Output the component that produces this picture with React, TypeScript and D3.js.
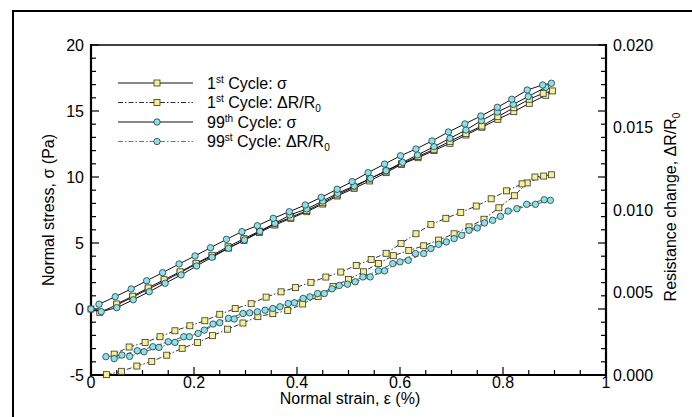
import React from "react";
import * as d3 from "d3";

// ---- data (strain in %, stress in Pa, resistance change dimensionless) ----
const xTicks = [0, 0.2, 0.4, 0.6, 0.8, 1];
const xTickLabels = ["0", "0.2", "0.4", "0.6", "0.8", "1"];
const yLeftTicks = [-5, 0, 5, 10, 15, 20];
const yLeftTickLabels = ["-5", "0", "5", "10", "15", "20"];
const yRightTicks = [0, 0.005, 0.01, 0.015, 0.02];
const yRightTickLabels = ["0.000", "0.005", "0.010", "0.015", "0.020"];

// 1st cycle stress
const c1SigLoadX = [0, 0.017, 0.05, 0.081, 0.111, 0.142, 0.173, 0.204, 0.235, 0.267, 0.297, 0.327, 0.357, 0.388, 0.419, 0.45, 0.478, 0.511, 0.541, 0.573, 0.603, 0.635, 0.666, 0.697, 0.728, 0.759, 0.79, 0.821, 0.851, 0.883, 0.896];
const c1SigLoadY = [0, -0.25, 0.3, 0.9, 1.5, 2.1, 2.75, 3.4, 4.0, 4.62, 5.2, 5.8, 6.36, 6.87, 7.37, 7.95, 8.56, 9.14, 9.7, 10.33, 10.96, 11.46, 12.0, 12.55, 13.18, 13.77, 14.37, 14.95, 15.58, 16.19, 16.52];
const c1SigUnloadX = [0.878, 0.851, 0.821, 0.79, 0.759, 0.728, 0.697, 0.666, 0.635, 0.603, 0.573, 0.541, 0.511, 0.478, 0.45, 0.419, 0.388, 0.357, 0.327, 0.297, 0.266, 0.235, 0.204, 0.173, 0.142, 0.111, 0.081, 0.05];
const c1SigUnloadY = [16.34, 15.89, 15.25, 14.57, 13.86, 13.3, 12.7, 12.1, 11.55, 11.0, 10.45, 9.85, 9.25, 8.65, 8.05, 7.45, 6.95, 6.45, 5.9, 5.33, 4.72, 4.07, 3.46, 2.82, 2.22, 1.6, 0.97, 0.38];

// 1st cycle resistance change
const c1ResLoadX = [0.03, 0.059, 0.089, 0.118, 0.147, 0.177, 0.207, 0.236, 0.265, 0.295, 0.324, 0.353, 0.382, 0.411, 0.441, 0.47, 0.5, 0.529, 0.558, 0.587, 0.617, 0.646, 0.675, 0.705, 0.734, 0.763, 0.792, 0.822, 0.847, 0.879, 0.894];
const c1ResLoadY = [0.00002, 0.000224, 0.000544, 0.000824, 0.0012, 0.001616, 0.001968, 0.002384, 0.002776, 0.003152, 0.003536, 0.00372, 0.003904, 0.004304, 0.00476, 0.00536, 0.005792, 0.006256, 0.00676, 0.007232, 0.007544, 0.007832, 0.008176, 0.00856, 0.008976, 0.00944, 0.010136, 0.010864, 0.01164, 0.012056, 0.012136];
const c1ResUnloadX = [0.862, 0.837, 0.807, 0.777, 0.748, 0.718, 0.689, 0.66, 0.631, 0.602, 0.573, 0.544, 0.515, 0.485, 0.456, 0.427, 0.397, 0.369, 0.34, 0.311, 0.28, 0.25, 0.221, 0.192, 0.163, 0.134, 0.105, 0.074, 0.045];
const c1ResUnloadY = [0.012, 0.011584, 0.01116, 0.01068, 0.01024, 0.009856, 0.009496, 0.00912, 0.00856, 0.007976, 0.007376, 0.007, 0.00664, 0.00624, 0.005936, 0.005616, 0.005296, 0.00504, 0.00472, 0.00432, 0.004024, 0.00368, 0.003288, 0.002984, 0.00268, 0.00232, 0.001968, 0.001696, 0.001264];

// 99th cycle stress
const c99SigLoadX = [0, 0.0198, 0.05, 0.082, 0.113, 0.144, 0.175, 0.205, 0.235, 0.267, 0.298, 0.328, 0.357, 0.386, 0.419, 0.45, 0.479, 0.511, 0.543, 0.573, 0.605, 0.634, 0.666, 0.697, 0.728, 0.758, 0.789, 0.82, 0.849, 0.883];
const c99SigLoadY = [0, -0.2, 0.1, 0.7, 1.31, 1.95, 2.58, 3.26, 3.92, 4.6, 5.23, 5.88, 6.49, 7.12, 7.58, 8.18, 8.77, 9.32, 9.9, 10.48, 11.11, 11.67, 12.3, 12.93, 13.56, 14.27, 14.92, 15.5, 16.1, 16.8];
const c99SigUnloadX = [0.894, 0.877, 0.847, 0.817, 0.789, 0.757, 0.726, 0.694, 0.662, 0.631, 0.601, 0.57, 0.538, 0.507, 0.478, 0.447, 0.416, 0.385, 0.354, 0.323, 0.293, 0.263, 0.232, 0.202, 0.171, 0.139, 0.108, 0.078, 0.047, 0.0155];
const c99SigUnloadY = [17.1, 16.97, 16.59, 15.89, 15.28, 14.62, 14.02, 13.41, 12.73, 12.12, 11.61, 10.98, 10.33, 9.65, 9.07, 8.46, 7.88, 7.37, 6.87, 6.31, 5.86, 5.28, 4.64, 4.02, 3.41, 2.75, 2.14, 1.52, 0.93, 0.36];

// 99th cycle resistance change
const c99ResLoadX = [0.029, 0.06, 0.09, 0.12, 0.15, 0.18, 0.208, 0.237, 0.267, 0.295, 0.323, 0.353, 0.383, 0.412, 0.44, 0.468, 0.498, 0.528, 0.558, 0.586, 0.616, 0.646, 0.675, 0.705, 0.734, 0.764, 0.795, 0.827, 0.863, 0.892];
const c99ResLoadY = [0.001112, 0.001208, 0.001472, 0.001712, 0.002016, 0.00232, 0.00252, 0.003088, 0.003432, 0.003728, 0.003832, 0.004032, 0.004336, 0.00464, 0.004936, 0.005224, 0.005504, 0.005944, 0.006312, 0.006752, 0.006952, 0.00736, 0.00792, 0.008264, 0.008768, 0.009216, 0.009616, 0.01008, 0.010344, 0.010584];
const c99ResUnloadX = [0.88, 0.846, 0.81, 0.78, 0.75, 0.72, 0.69, 0.66, 0.63, 0.6, 0.57, 0.542, 0.513, 0.482, 0.453, 0.425, 0.395, 0.367, 0.338, 0.308, 0.278, 0.25, 0.22, 0.191, 0.163, 0.132, 0.103, 0.075, 0.045];
const c99ResUnloadY = [0.010624, 0.010344, 0.009936, 0.009376, 0.008912, 0.008464, 0.008064, 0.007664, 0.00736, 0.006856, 0.006312, 0.005944, 0.005648, 0.005424, 0.004936, 0.004736, 0.004376, 0.004136, 0.003928, 0.003768, 0.003392, 0.003168, 0.00272, 0.00232, 0.001976, 0.001672, 0.001408, 0.001128, 0.000992];

const legendNames = ["1st Cycle: σ", "1st Cycle: ΔR/R0", "99th Cycle: σ", "99st Cycle: ΔR/R0"];

const YELLOW = "#f6f08e";
const CYAN = "#84e4ee";
const FONT = "Liberation Sans, Arial, sans-serif";

const W = 692, H = 417;
const L = 91, R = 606, T = 45, B = 375;

const x = d3.scaleLinear().domain([0, 1]).range([L, R]);
const yL = d3.scaleLinear().domain([-5, 20]).range([B, T]);
const yR = d3.scaleLinear().domain([0, 0.02]).range([B, T]);

type P = [number, number];
const zip = (xs: number[], ys: number[]): P[] => xs.map((v, i) => [v, ys[i]]);

const series = [
  { pts: zip(c1ResLoadX, c1ResLoadY).concat(zip(c1ResUnloadX, c1ResUnloadY)), y: yR, marker: "sq", dash: "5,2,1.5,2", stroke: "#333" },
  { pts: zip(c99ResLoadX, c99ResLoadY).concat(zip(c99ResUnloadX, c99ResUnloadY)), y: yR, marker: "ci", dash: "5,2,1.5,2", stroke: "#555" },
  { pts: zip(c1SigLoadX, c1SigLoadY).concat(zip(c1SigUnloadX, c1SigUnloadY)), y: yL, marker: "sq", dash: "", stroke: "#111" },
  { pts: zip(c99SigLoadX, c99SigLoadY).concat(zip(c99SigUnloadX, c99SigUnloadY)), y: yL, marker: "ci", dash: "", stroke: "#111" },
];

function Marker({ kind, cx, cy }: { kind: string; cx: number; cy: number }) {
  if (kind === "sq")
    return <rect x={cx - 3} y={cy - 3} width={6} height={6} fill={YELLOW} stroke="#333" strokeWidth={0.8} />;
  return <circle cx={cx} cy={cy} r={3.2} fill={CYAN} stroke="#333" strokeWidth={0.8} />;
}

function LegendLabel({ name, x0, y0 }: { name: string; x0: number; y0: number }) {
  const m = name.match(/^(\d+)(st|th)( Cycle: )(.*)$/);
  if (!m) return null;
  const rest = m[4];
  const hasSub = rest.endsWith("R0");
  return (
    <text x={x0} y={y0} fontSize={16} fontFamily={FONT} fill="#000">
      {m[1]}
      <tspan fontSize={10} dy={-6}>{m[2]}</tspan>
      <tspan dy={6}>{m[3]}{hasSub ? rest.slice(0, -1) : rest}</tspan>
      {hasSub && <tspan fontSize={10} dy={4}>0</tspan>}
    </text>
  );
}

export default function App() {
  const xMinor = d3.range(0, 1.0001, 0.05);
  const yMinor = d3.range(-5, 20.0001, 1);
  const legendY = [83, 102.5, 122, 141.5];
  const legendStyles = [
    { marker: "sq", dash: "", stroke: "#111" },
    { marker: "sq", dash: "5,2,1.5,2", stroke: "#333" },
    { marker: "ci", dash: "", stroke: "#111" },
    { marker: "ci", dash: "5,2,1.5,2", stroke: "#777" },
  ];
  return (
    <svg width={W} height={H} style={{ position: "absolute", left: 0, top: 0, background: "#fff" }}>
      <rect x={0} y={0} width={W} height={H} fill="#fff" />
      <rect x={13} y={11} width={720} height={440} fill="none" stroke="#000" strokeWidth={2} />

      {/* ticks */}
      {xMinor.map((v, i) => {
        const major = Math.abs(v / 0.2 - Math.round(v / 0.2)) < 1e-6;
        return <line key={"xt" + i} x1={x(v)} x2={x(v)} y1={B} y2={B - (major ? 8 : 5)} stroke="#000" strokeWidth={1.2} />;
      })}
      {yMinor.map((v, i) => {
        const major = Math.abs(v % 5) < 1e-6;
        const len = major ? 8 : 5;
        return (
          <g key={"yt" + i}>
            <line x1={L} x2={L + len} y1={yL(v)} y2={yL(v)} stroke="#000" strokeWidth={1.2} />
            <line x1={R} x2={R - len} y1={yL(v)} y2={yL(v)} stroke="#000" strokeWidth={1.2} />
          </g>
        );
      })}

      {/* frame of plot */}
      <line x1={L} x2={R} y1={T} y2={T} stroke="#000" strokeWidth={1.5} />
      <line x1={L} x2={L} y1={T - 1} y2={B + 1} stroke="#000" strokeWidth={2.2} />
      <line x1={R} x2={R} y1={T - 1} y2={B + 1} stroke="#000" strokeWidth={2.2} />
      <line x1={L - 1} x2={R + 1} y1={B} y2={B} stroke="#000" strokeWidth={2.2} />

      {/* tick labels */}
      {xTicks.map((v, i) => (
        <text key={"xl" + i} x={x(v)} y={388} textAnchor="middle" fontSize={16} fontFamily={FONT}>{xTickLabels[i]}</text>
      ))}
      {yLeftTicks.map((v, i) => (
        <text key={"yl" + i} x={84} y={yL(v)} dy="0.36em" textAnchor="end" fontSize={16} fontFamily={FONT}>{yLeftTickLabels[i]}</text>
      ))}
      {yRightTicks.map((v, i) => (
        <text key={"yr" + i} x={613} y={yR(v)} dy="0.36em" textAnchor="start" fontSize={16} fontFamily={FONT}>{yRightTickLabels[i]}</text>
      ))}

      {/* axis titles */}
      <text x={350} y={404} textAnchor="middle" fontSize={16} fontFamily={FONT}>Normal strain, ε (%)</text>
      <text transform="translate(54,210) rotate(-90)" textAnchor="middle" fontSize={16} fontFamily={FONT}>Normal stress, σ (Pa)</text>
      <text transform="translate(676,207) rotate(-90)" textAnchor="middle" fontSize={16} fontFamily={FONT}>
        Resistance change, ΔR/R<tspan fontSize={10} dy={4}>0</tspan>
      </text>

      {/* series */}
      {series.map((s, si) => {
        const line = d3.line<P>().x(d => x(d[0])).y(d => s.y(d[1]));
        return (
          <g key={"s" + si}>
            <path d={line(s.pts) || ""} fill="none" stroke={s.stroke} strokeWidth={1} strokeDasharray={s.dash || undefined} />
            {s.pts.map((p, i) => (
              <Marker key={i} kind={s.marker} cx={x(p[0])} cy={s.y(p[1])} />
            ))}
          </g>
        );
      })}

      {/* legend */}
      {legendNames.map((n, i) => (
        <g key={"lg" + i}>
          <line x1={118} x2={193} y1={legendY[i]} y2={legendY[i]} stroke={legendStyles[i].stroke} strokeWidth={1} strokeDasharray={legendStyles[i].dash || undefined} />
          <Marker kind={legendStyles[i].marker} cx={157} cy={legendY[i]} />
          <LegendLabel name={n} x0={207} y0={legendY[i] + 5.5} />
        </g>
      ))}
    </svg>
  );
}
